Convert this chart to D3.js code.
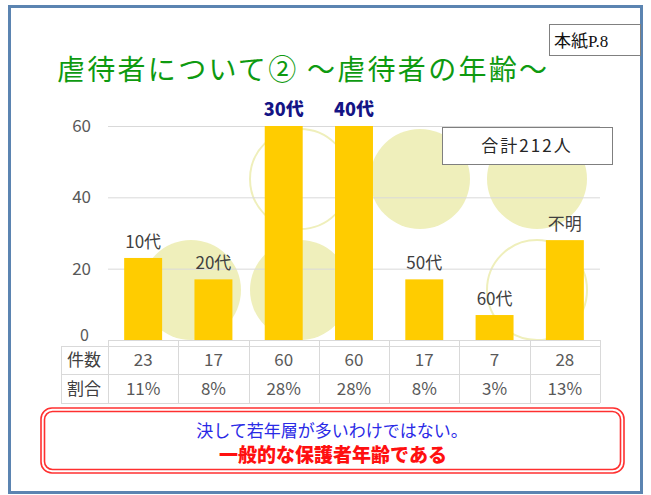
<!DOCTYPE html>
<html>
  <head>
    <meta charset="utf-8">
    <script src="https://d3js.org/d3.v7.min.js"></script>
    <title>虐待者の年齢</title>
    <style>
      body { margin: 0; background: #fff; }
      text { font-family: "Noto Sans CJK JP", "Noto Sans", sans-serif; }
    </style>
  </head>
  <body>
    <div id="chart"></div>
  <script>

    // DATA
    const categories = ['10代', '20代', '30代', '40代', '50代', '60代', '不明'];
    const counts = [23, 17, 60, 60, 17, 7, 28];
    const shares = ['11%', '8%', '28%', '28%', '8%', '3%', '13%'];
    const highlight = ['30代', '40代'];
    const yTicks = [0, 20, 40, 60];
    const rowLabels = ['件数', '割合'];
    const total = '合計212人';

    const W = 651, H = 495;
    const plot = {left: 108, right: 600, top: 126, bottom: 340};

    var svg = d3.select('#chart')
	.append('svg')
	.attr('width', W)
	.attr('height', H);

    // outer frame
    svg.append('rect')
	.attr('x', 9.5).attr('y', 6.5)
	.attr('width', 632).attr('height', 486)
	.attr('fill', '#fff')
	.attr('stroke', '#5b84b1')
	.attr('stroke-width', 3);

    var x = d3.scaleBand()
	.domain(categories)
	.range([plot.left, plot.right])
	.paddingInner(0.46)
	.paddingOuter(0.23);

    var y = d3.scaleLinear()
	.domain([0, 60])
	.range([plot.bottom, plot.top]);

    // decorative circles behind the bars
    var deco = [
	{cx: 191, cy: 290, fill: true},
	{cx: 300, cy: 290, fill: true},
	{cx: 300, cy: 179, fill: false},
	{cx: 420, cy: 179, fill: true},
	{cx: 537, cy: 179, fill: true},
	{cx: 537, cy: 290, fill: false}
    ];
    svg.selectAll('circle.deco')
	.data(deco)
	.enter()
	.append('circle')
	.attr('class', 'deco')
	.attr('cx', d => d.cx)
	.attr('cy', d => d.cy)
	.attr('r', 50)
	.attr('fill', d => d.fill ? '#efefbb' : 'none')
	.attr('stroke', d => d.fill ? 'none' : '#efefbb')
	.attr('stroke-width', 2);

    // gridlines + y labels
    svg.selectAll('line.grid')
	.data(yTicks.filter(t => t > 0))
	.enter()
	.append('line')
	.attr('x1', plot.left).attr('x2', plot.right)
	.attr('y1', d => y(d) + 0.5).attr('y2', d => y(d) + 0.5)
	.attr('stroke', '#d9d9d9');

    svg.selectAll('text.ytick')
	.data(yTicks)
	.enter()
	.append('text')
	.attr('x', d => d == 0 ? 89 : 91)
	.attr('y', d => y(d) + 6 - (d == 0 ? 5 : 0))
	.attr('text-anchor', 'end')
	.attr('font-size', d => d == 0 ? 16 : 17)
	.attr('fill', '#595959')
	.text(d => d);

    // bars
    svg.selectAll('rect.bar')
	.data(categories)
	.enter()
	.append('rect')
	.attr('x', d => x(d))
	.attr('width', x.bandwidth())
	.attr('y', (d, i) => y(counts[i]))
	.attr('height', (d, i) => y(0) - y(counts[i]))
	.attr('fill', '#ffcc00');

    // bar labels
    svg.selectAll('text.cat')
	.data(categories)
	.enter()
	.append('text')
	.attr('x', d => x(d) + x.bandwidth() / 2)
	.attr('y', (d, i) => y(counts[i]) - 10)
	.attr('text-anchor', 'middle')
	.attr('font-size', d => highlight.includes(d) ? 18 : 17)
	.attr('font-weight', d => highlight.includes(d) ? 900 : 400)
	.attr('fill', d => highlight.includes(d) ? '#141485' : '#404040')
	.text(d => d);

    // data table
    var rowY = [plot.bottom, 346, 374, 403];
    var colX = [61].concat(categories.map(c => x(c) - x.step() * x.paddingInner() / 2 - (c == categories[0] ? x.step() * (x.paddingOuter() - x.paddingInner() / 2) : 0)));
    colX.push(plot.right);
    var tbl = svg.append('g').attr('stroke', '#d9d9d9');
    tbl.append('line').attr('x1', plot.left).attr('x2', plot.right)
	.attr('y1', rowY[0] + 0.5).attr('y2', rowY[0] + 0.5);
    rowY.slice(1).forEach(function(r) {
	tbl.append('line').attr('x1', 61).attr('x2', plot.right)
	    .attr('y1', r + 0.5).attr('y2', r + 0.5);
    });
    colX.forEach(function(c, i) {
	tbl.append('line')
	    .attr('x1', Math.round(c) + 0.5).attr('x2', Math.round(c) + 0.5)
	    .attr('y1', i == 0 ? rowY[1] : rowY[0]).attr('y2', rowY[3]);
    });

    [counts, shares].forEach(function(row, r) {
	var cy = (rowY[r + 1] + rowY[r + 2]) / 2 + 6;
	svg.append('text')
	    .attr('x', 84).attr('y', cy)
	    .attr('text-anchor', 'middle')
	    .attr('font-size', 17)
	    .attr('fill', '#404040')
	    .text(rowLabels[r]);
	svg.selectAll('text.row' + r)
	    .data(row)
	    .enter()
	    .append('text')
	    .attr('x', (d, i) => x(categories[i]) + x.bandwidth() / 2)
	    .attr('y', cy)
	    .attr('text-anchor', 'middle')
	    .attr('font-size', 17)
	    .attr('fill', '#595959')
	    .text(d => d);
    });

    // total box
    svg.append('rect')
	.attr('x', 442.5).attr('y', 127.5)
	.attr('width', 170).attr('height', 37)
	.attr('fill', '#fff').attr('stroke', '#7f7f7f');
    svg.append('text')
	.attr('x', 527).attr('y', 152)
	.attr('text-anchor', 'middle')
	.attr('font-size', 17)
	.attr('letter-spacing', 2)
	.attr('fill', '#262626')
	.text(total);

    // page reference box
    svg.append('rect')
	.attr('x', 549.5).attr('y', 24.5)
	.attr('width', 91).attr('height', 31)
	.attr('fill', '#fff').attr('stroke', '#808080');
    var ref = svg.append('text')
	.attr('x', 554).attr('y', 47)
	.attr('font-size', 17)
	.attr('fill', '#111');
    ref.append('tspan').text('本紙');
    ref.append('tspan').style('font-family', '"Liberation Serif", serif').text('P.8');

    // title
    svg.append('text')
	.attr('x', 57).attr('y', 80)
	.attr('font-size', 28)
	.attr('textLength', 490)
	.attr('lengthAdjust', 'spacing')
	.attr('fill', '#0e9a10')
	.text('虐待者について② ～虐待者の年齢～');

    // conclusion box (double red rounded border)
    svg.append('rect')
	.attr('x', 41).attr('y', 408)
	.attr('width', 583).attr('height', 65)
	.attr('rx', 11)
	.attr('fill', '#fff').attr('stroke', '#ff3030').attr('stroke-width', 1.6);
    svg.append('rect')
	.attr('x', 44.5).attr('y', 411.5)
	.attr('width', 576).attr('height', 58)
	.attr('rx', 8)
	.attr('fill', 'none').attr('stroke', '#ff3030').attr('stroke-width', 1.6);
    svg.append('text')
	.attr('x', 332).attr('y', 437)
	.attr('text-anchor', 'middle')
	.attr('font-size', 17)
	.attr('fill', '#2a2ae6')
	.text('決して若年層が多いわけではない。');
    svg.append('text')
	.attr('x', 333).attr('y', 462)
	.attr('text-anchor', 'middle')
	.attr('font-size', 19)
	.attr('font-weight', 900)
	.attr('fill', '#ff1010')
	.text('一般的な保護者年齢である');

  </script>
  </body>
</html>
